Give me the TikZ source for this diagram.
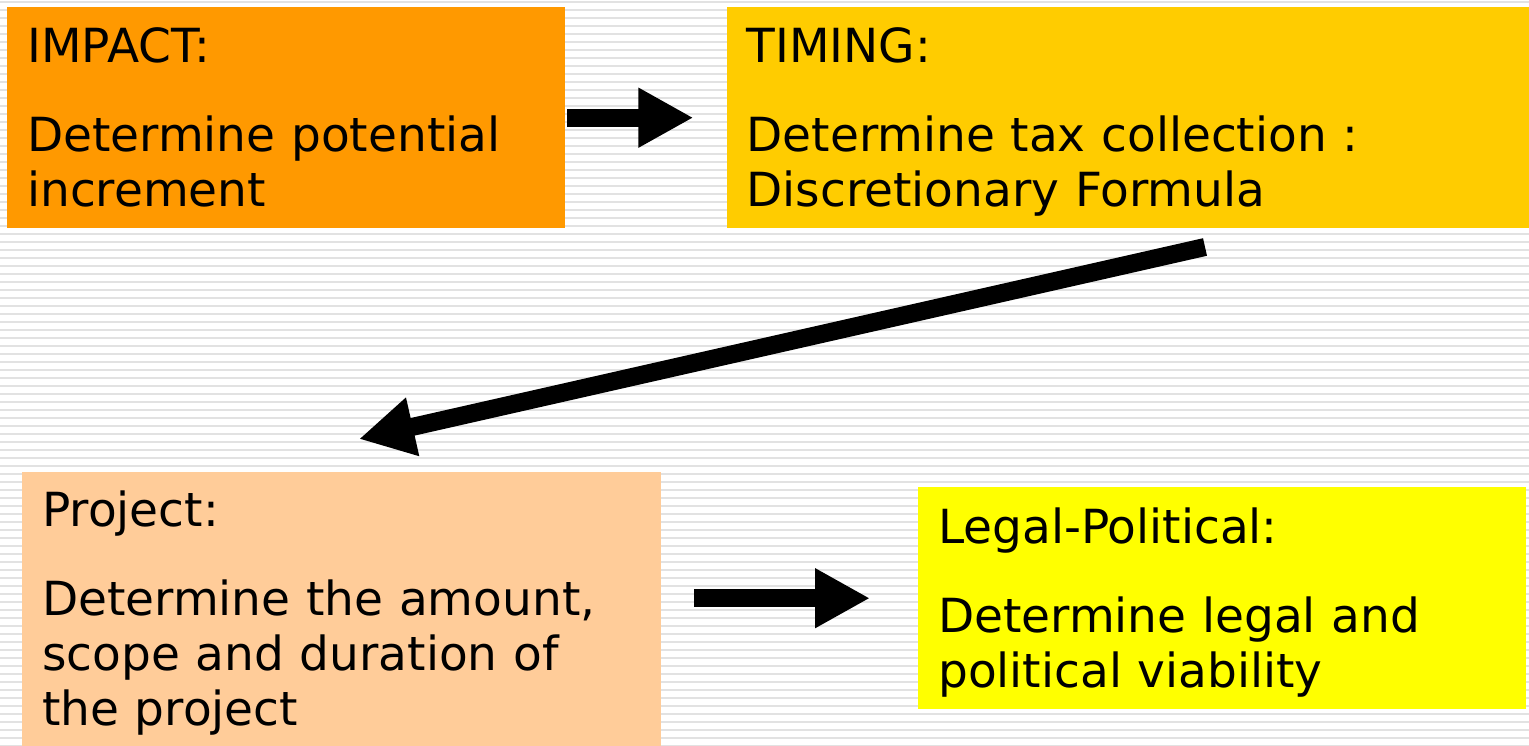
\documentclass[tikz,border=0pt]{standalone}
\usepackage{fontspec}
\setmainfont{DejaVu Sans}
\usepackage{tikz}
\usetikzlibrary{arrows.meta,positioning}
\definecolor{impactorange}{HTML}{FF9900}
\definecolor{timingamber}{HTML}{FFCC00}
\definecolor{projectpeach}{HTML}{FFCC99}
\definecolor{legalyellow}{HTML}{FFFF00}
\definecolor{stripegray}{HTML}{E2E2E2}
\begin{document}
\begin{tikzpicture}[x=1pt,y=-1pt,bigarrow/.style={line width=18pt,-{Triangle[length=55pt,width=56pt]}}]
        \tikzstyle{stepbox} = [inner xsep=20pt, inner ysep=0pt, align=left, text height=34pt, text depth=144pt, font=\fontsize{47}{55}\selectfont]

        % Background
        \useasboundingbox (0,0) rectangle (1529,746);
        \fill[white] (0,0) rectangle (1529,746);
        \foreach \y in {2,10,...,746}
            \draw[stripegray, line width=2pt] (0,\y) -- (1529,\y);

        % Nodes
        \node[stepbox, fill=impactorange, text width=518pt, minimum height=221pt, anchor=north west] (impact) at (7,7) {IMPACT:\\[34pt]Determine potential\\increment};
        \node[stepbox, fill=timingamber, text width=763pt, minimum height=221pt, right=161pt of impact] (timing) {TIMING:\\[34pt]Determine tax collection :\\Discretionary Formula};
        \node[stepbox, fill=projectpeach, text width=599pt, minimum height=274pt, text depth=199pt, anchor=north west] (project) at (22,472) {Project:\\[34pt]Determine the amount,\\scope and duration of\\the project};
        \node[stepbox, fill=legalyellow, text width=568pt, minimum height=222pt, anchor=north west] (legal) at (918,487) {Legal-Political:\\[34pt]Determine legal and\\political viability};
        \coordinate (turnfrom) at (1205,247);
        \coordinate (turnto) at (359,439);

        % Edges
        \draw[bigarrow, shorten <=2pt, shorten >=33pt] (impact.east) -- (timing.west);
        \draw[bigarrow] (turnfrom) -- (turnto);
        \draw[bigarrow, shorten <=33pt, shorten >=48pt] (project.east |- legal.west) -- (legal.west);
    \end{tikzpicture}
\end{document}
